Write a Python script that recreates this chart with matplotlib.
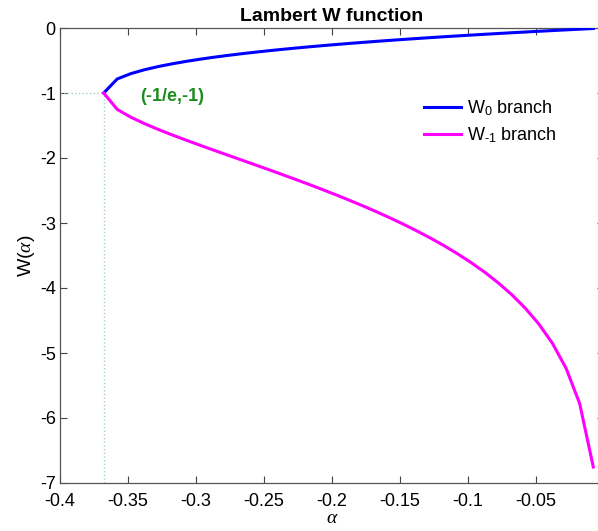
import matplotlib
matplotlib.use("Agg")
import matplotlib.pyplot as plt

plt.rcParams['font.family'] = ['Liberation Sans', 'DejaVu Sans']
plt.rcParams['mathtext.fontset'] = 'custom'
plt.rcParams['mathtext.rm'] = 'Liberation Sans'
plt.rcParams['mathtext.it'] = 'Liberation Serif:italic'

# alpha samples (step 0.01 from -1/e) and the two branches
alpha = [-0.36788, -0.35788, -0.34788, -0.33788, -0.32788, -0.31788, -0.30788,
         -0.29788, -0.28788, -0.27788, -0.26788, -0.25788, -0.24788, -0.23788,
         -0.22788, -0.21788, -0.20788, -0.19788, -0.18788, -0.17788, -0.16788,
         -0.15788, -0.14788, -0.13788, -0.12788, -0.11788, -0.10788, -0.09788,
         -0.08788, -0.07788, -0.06788, -0.05788, -0.04788, -0.03788, -0.02788,
         -0.01788, -0.00788]
w0 = [-1.0, -0.7832, -0.7018, -0.6422, -0.5936, -0.5522, -0.5156, -0.4827,
      -0.4527, -0.4251, -0.3994, -0.3754, -0.3527, -0.3313, -0.3110, -0.2917,
      -0.2732, -0.2555, -0.2385, -0.2221, -0.2064, -0.1911, -0.1764, -0.1622,
      -0.1483, -0.1349, -0.1219, -0.1092, -0.0968, -0.0848, -0.0730, -0.0616,
      -0.0504, -0.0394, -0.0287, -0.0182, -0.0079]
wm1 = [-1.0, -1.2535, -1.3726, -1.4711, -1.5595, -1.6420, -1.7209, -1.7974,
       -1.8724, -1.9467, -2.0207, -2.0947, -2.1692, -2.2445, -2.3208, -2.3987,
       -2.4784, -2.5602, -2.6444, -2.7315, -2.8218, -2.9161, -3.0148, -3.1188,
       -3.2288, -3.3457, -3.4713, -3.6069, -3.7549, -3.9183, -4.1014, -4.3105,
       -4.5553, -4.8524, -5.2352, -5.7775, -6.7535]
branch_pt = (-0.36788, -1.0)
x_ticks = [-0.4, -0.35, -0.3, -0.25, -0.2, -0.15, -0.1, -0.05, 0]
x_labels = ['-0.4', '-0.35', '-0.3', '-0.25', '-0.2', '-0.15', '-0.1', '-0.05', '']
y_ticks = [0, -1, -2, -3, -4, -5, -6, -7]

fig = plt.figure(figsize=(5.98, 5.31), dpi=100)
ax = fig.add_axes([60 / 598, 48 / 531, 544 / 598, 455 / 531])

ax.plot(alpha, w0, color='#0000ff', lw=2.2, label=r'W$_\mathrm{0}$ branch', zorder=3)
ax.plot(alpha, wm1, color='#ff00ff', lw=2.2, label=r'W$_\mathrm{\text{-}1}$ branch', zorder=3)
# dotted guides to the branch point
ax.plot([-0.4, branch_pt[0]], [branch_pt[1], branch_pt[1]], ':', color='#a8cccc', lw=1)
ax.plot([branch_pt[0], branch_pt[0]], [-7, branch_pt[1]], ':', color='#a8cccc', lw=1)
ax.text(-0.3412, -1.05, '(-1/e,-1)', color='#1e8c1e', fontsize=13,
        fontweight='bold', ha='left', va='center')

ax.set_xlim(-0.4, 0)
ax.set_ylim(-7, 0)
ax.set_xticks(x_ticks)
ax.set_xticklabels(x_labels)
ax.set_yticks(y_ticks)
ax.set_yticklabels([str(v) for v in y_ticks])
ax.tick_params(direction='in', length=5, width=0.8, color='#444444',
               labelsize=13, top=True, right=True, pad=3)
ax.tick_params(axis='x', pad=7)
for s in ax.spines.values():
    s.set_color('#555555')
    s.set_linewidth(0.9)

ax.set_title('Lambert W function', fontsize=14, fontweight='bold', pad=5)
ax.set_xlabel(r'$\alpha$', fontsize=14, labelpad=0)
ax.set_ylabel(r'W($\alpha$)', fontsize=14, labelpad=2)

ax.legend(loc='upper left', bbox_to_anchor=(0.64, 0.882), frameon=False,
          fontsize=13, handlelength=2.0, handletextpad=0.35, labelspacing=0.45)

fig.savefig('out.png', dpi=100)
